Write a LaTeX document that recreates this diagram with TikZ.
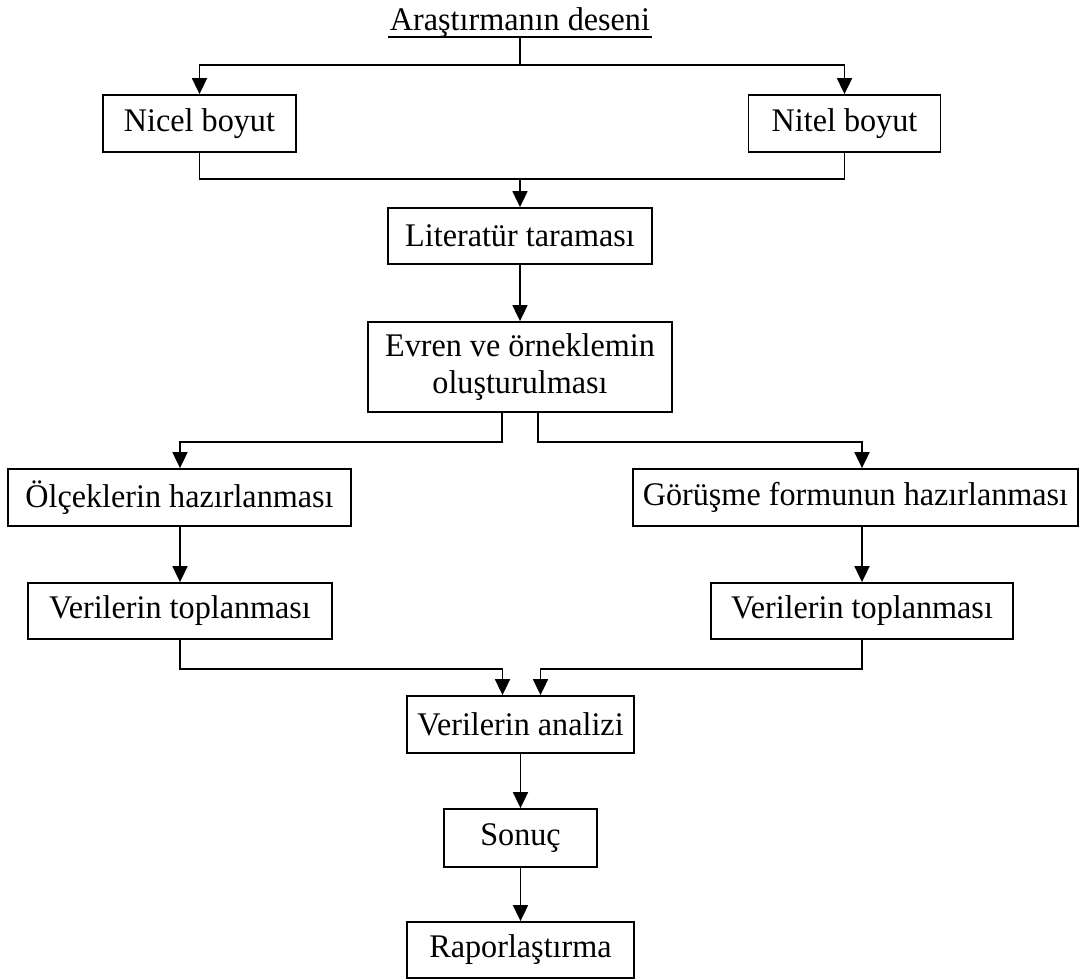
\documentclass[tikz,border=0pt]{standalone}
\usepackage{fontspec}
\setmainfont[FakeStretch=0.975]{Liberation Serif}
\usetikzlibrary{arrows.meta}
\begin{document}
\begin{tikzpicture}[x=1pt,y=-1pt,
  every node/.style={font=\fontsize{33}{37}\selectfont},
  box/.style={draw,line width=1.8pt,inner sep=0pt,minimum height=#1,align=center},
  box/.default=57pt,
  ln/.style={line width=1.8pt},
  arr/.style={line width=1.8pt,-{Triangle[length=16pt,width=15pt]}}]
\useasboundingbox (0,0) rectangle (1085,980);
% title
\node[anchor=base,inner xsep=2pt,inner ysep=0pt,text depth=7pt] (title) at (520,30) {Araştırmanın deseni};
\draw[ln] (title.south west) -- (title.south east);
% boxes
\node[box,minimum width=193pt] (nicel) at (199.5,123.5) {Nicel boyut};
\node[box,minimum width=192pt] (nitel) at (844.5,123.5) {Nitel boyut};
\node[box=56pt,minimum width=264pt] (lit) at (520,236) {Literatür taraması};
\node[box=90pt,minimum width=304pt] (evren) at (520,367) {Evren ve örneklemin\\oluşturulması};
\node[box,minimum width=343pt] (olcek) at (179.5,497.5) {Ölçeklerin hazırlanması};
\node[box,minimum width=445pt] (gorusme) at (855.5,497.5) {Görüşme formunun hazırlanması};
\node[box=56pt,minimum width=304pt] (ver1) at (180,611) {Verilerin toplanması};
\node[box=56pt,minimum width=302pt] (ver2) at (862,611) {Verilerin toplanması};
\node[box,minimum width=227pt] (analiz) at (520.5,724.5) {Verilerin analizi};
\node[box=58pt,minimum width=153pt] (sonuc) at (520.5,838) {Sonuç};
\node[box=56pt,minimum width=227pt] (rapor) at (520.5,950) {Raporlaştırma};
% connectors
\coordinate (j1) at (520,65);
\coordinate (j2) at (520,179);
\draw[ln] (title.south) -- (j1);
\draw[arr] (j1) -| (nicel.north);
\draw[arr] (j1) -| (nitel.north);
\draw[ln] (nicel.south) |- (j2) -| (nitel.south);
\draw[arr] (j2) -- (lit.north);
\draw[arr] (lit.south) -- (evren.north);
\draw[arr] ([xshift=-18pt]evren.south) -- ++(0,29) -| (olcek.north -| ver1.north);
\draw[arr] ([xshift=18pt]evren.south) -- ++(0,29) -| (gorusme.north -| ver2.north);
\draw[arr] (olcek.south -| ver1.north) -- (ver1.north);
\draw[arr] (gorusme.south -| ver2.north) -- (ver2.north);
\draw[arr] (ver1.south) -- ++(0,29) -| ([xshift=-18pt]analiz.north);
\draw[arr] (ver2.south) -- ++(0,29) -| ([xshift=20pt]analiz.north);
\draw[arr] (analiz.south) -- (sonuc.north);
\draw[arr] (sonuc.south) -- (rapor.north);
\end{tikzpicture}
\end{document}
